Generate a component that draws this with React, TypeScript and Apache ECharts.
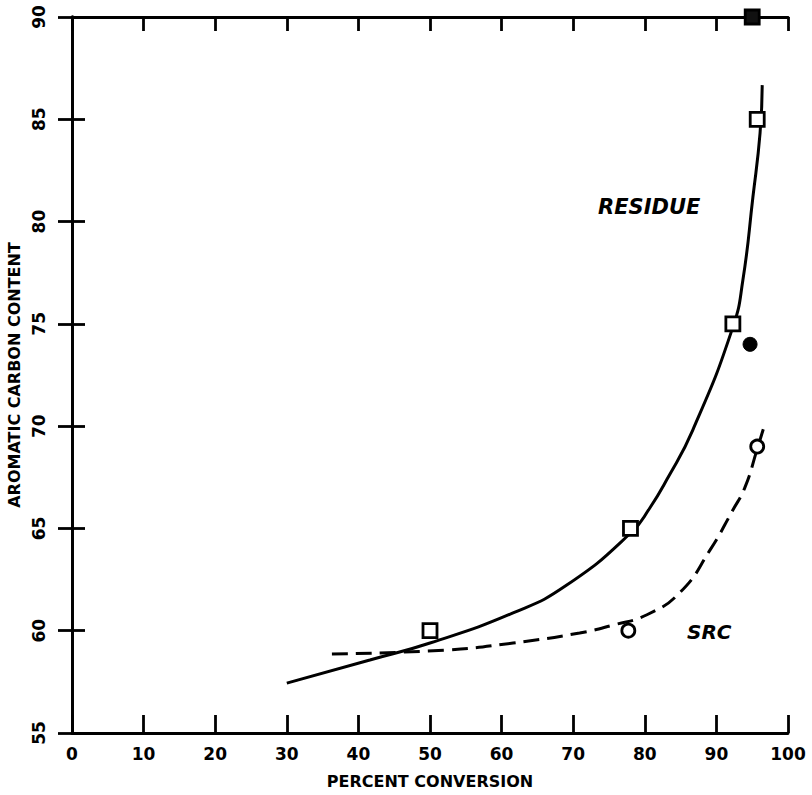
import React, { useEffect, useRef } from "react";
import * as echarts from "echarts";

const xTickLabels = ["0", "10", "20", "30", "40", "50", "60", "70", "80", "90", "100"];
const yTickLabels = ["55", "60", "65", "70", "75", "80", "85", "90"];

// RESIDUE fitted curve (solid)
const residueCurveX = [30, 41.6, 50, 61.6, 69.1, 78.1, 80.7, 83.1, 86.7, 92.3, 93.7, 95.1, 96.1, 96.4];
const residueCurveY = [57.44, 58.57, 59.4, 60.87, 62.23, 64.8, 66.0, 67.4, 69.81, 74.84, 77.14, 81.2, 84.33, 86.67];

// SRC fitted curve (dashed)
const srcCurveX = [36.3, 52.4, 61.6, 70.9, 75.6, 80.3, 85.0, 89.1, 92.3, 94.0, 95.7, 96.8];
const srcCurveY = [58.86, 59.06, 59.4, 59.89, 60.28, 60.78, 61.9, 63.94, 65.9, 67.02, 68.88, 70.15];

// Measured points
const residueX = [50, 78, 92.3, 95.7];
const residueY = [60, 65, 75, 85];
const residueFilledX = [95];
const residueFilledY = [90];
const srcX = [77.7, 95.7];
const srcY = [60, 69];
const solidCircleX = [94.7];
const solidCircleY = [74];

const FONT = "DejaVu Sans";

function zip(xs: number[], ys: number[]) {
  return xs.map((x, i) => [x, ys[i]]);
}

export default function App() {
  const ref = useRef<HTMLDivElement>(null);
  useEffect(() => {
    if (!ref.current) return;
    const chart = echarts.init(ref.current, null, { renderer: "svg" });
    const axisLine = { show: true, lineStyle: { color: "#000", width: 2.8 } };
    const tickStyle = { color: "#000", width: 2.8 };
    chart.setOption({
      animation: false,
      backgroundColor: "#fff",
      grid: { left: 72, right: 24, top: 17, bottom: 62, outerBoundsMode: "none", containLabel: false },
      xAxis: [
        {
          type: "value",
          min: 0,
          max: 100,
          interval: 10,
          position: "bottom",
          axisLine,
          axisTick: { show: true, inside: true, length: 18, lineStyle: tickStyle },
          splitLine: { show: false },
          axisLabel: {
            margin: 12,
            color: "#000",
            fontFamily: FONT,
            fontSize: 17,
            fontWeight: "bold",
            formatter: (v: number) => xTickLabels[Math.round(v / 10)] ?? "",
          },
          name: "PERCENT CONVERSION",
          nameLocation: "middle",
          nameGap: 40,
          nameTextStyle: { color: "#000", fontFamily: FONT, fontSize: 16, fontWeight: "bold" },
        },
        {
          type: "value",
          min: 0,
          max: 100,
          interval: 10,
          position: "top",
          axisLine,
          axisTick: { show: true, inside: true, length: 14, lineStyle: tickStyle },
          splitLine: { show: false },
          axisLabel: { show: false },
        },
      ],
      yAxis: [
        {
          type: "value",
          min: 55,
          max: 90,
          interval: 5,
          position: "left",
          axisLine,
          axisTick: { show: true, inside: true, length: 13, lineStyle: tickStyle },
          splitLine: { show: false },
          axisLabel: {
            rotate: 90,
            margin: 25,
            color: "#000",
            fontFamily: FONT,
            fontSize: 17,
            fontWeight: "bold",
            formatter: (v: number) => yTickLabels[Math.round((v - 55) / 5)] ?? "",
          },
          name: "AROMATIC CARBON CONTENT",
          nameLocation: "middle",
          nameGap: 50,
          nameTextStyle: { color: "#000", fontFamily: FONT, fontSize: 16, fontWeight: "bold" },
        },
        {
          type: "value",
          min: 55,
          max: 90,
          interval: 5,
          position: "right",
          axisLine,
          axisTick: { show: true, inside: true, length: 14, lineStyle: tickStyle },
          splitLine: { show: false },
          axisLabel: { show: false },
        },
      ],
      series: [
        {
          type: "line",
          name: "Residue curve",
          data: zip(residueCurveX, residueCurveY),
          smooth: 0.5,
          showSymbol: false,
          lineStyle: { color: "#000", width: 3 },
          z: 2,
        },
        {
          type: "line",
          name: "SRC curve",
          data: zip(srcCurveX, srcCurveY),
          smooth: 0.5,
          showSymbol: false,
          lineStyle: { color: "#000", width: 3, type: [16, 8] },
          z: 2,
        },
        {
          type: "scatter",
          name: "Residue",
          data: zip(residueX, residueY),
          symbol: "rect",
          symbolSize: 14,
          itemStyle: { color: "#fff", borderColor: "#000", borderWidth: 2.8, opacity: 1 },
          z: 5,
        },
        {
          type: "scatter",
          name: "Residue (filled)",
          data: zip(residueFilledX, residueFilledY),
          symbol: "rect",
          symbolSize: 14,
          itemStyle: { color: "#111", borderColor: "#000", borderWidth: 2.8, opacity: 1 },
          z: 5,
        },
        {
          type: "scatter",
          name: "SRC",
          data: zip(srcX, srcY),
          symbol: "circle",
          symbolSize: 13,
          itemStyle: { color: "#fff", borderColor: "#000", borderWidth: 2.8, opacity: 1 },
          z: 5,
        },
        {
          type: "scatter",
          name: "Solid circle",
          data: zip(solidCircleX, solidCircleY),
          symbol: "circle",
          symbolSize: 14,
          itemStyle: { color: "#000", borderColor: "#000", borderWidth: 1, opacity: 1 },
          z: 5,
        },
      ],
      graphic: [
        {
          type: "text",
          left: 598,
          top: 196,
          style: {
            text: "RESIDUE",
            fill: "#000",
            font: `italic bold 21px "${FONT}"`,
          },
        },
        {
          type: "text",
          left: 687,
          top: 622,
          style: {
            text: "SRC",
            fill: "#000",
            font: `italic bold 20px "${FONT}"`,
          },
        },
      ],
    });
    return () => chart.dispose();
  }, []);
  return (
    <div
      ref={ref}
      style={{ position: "fixed", left: 0, top: 0, width: 812, height: 795, background: "#fff" }}
    />
  );
}
